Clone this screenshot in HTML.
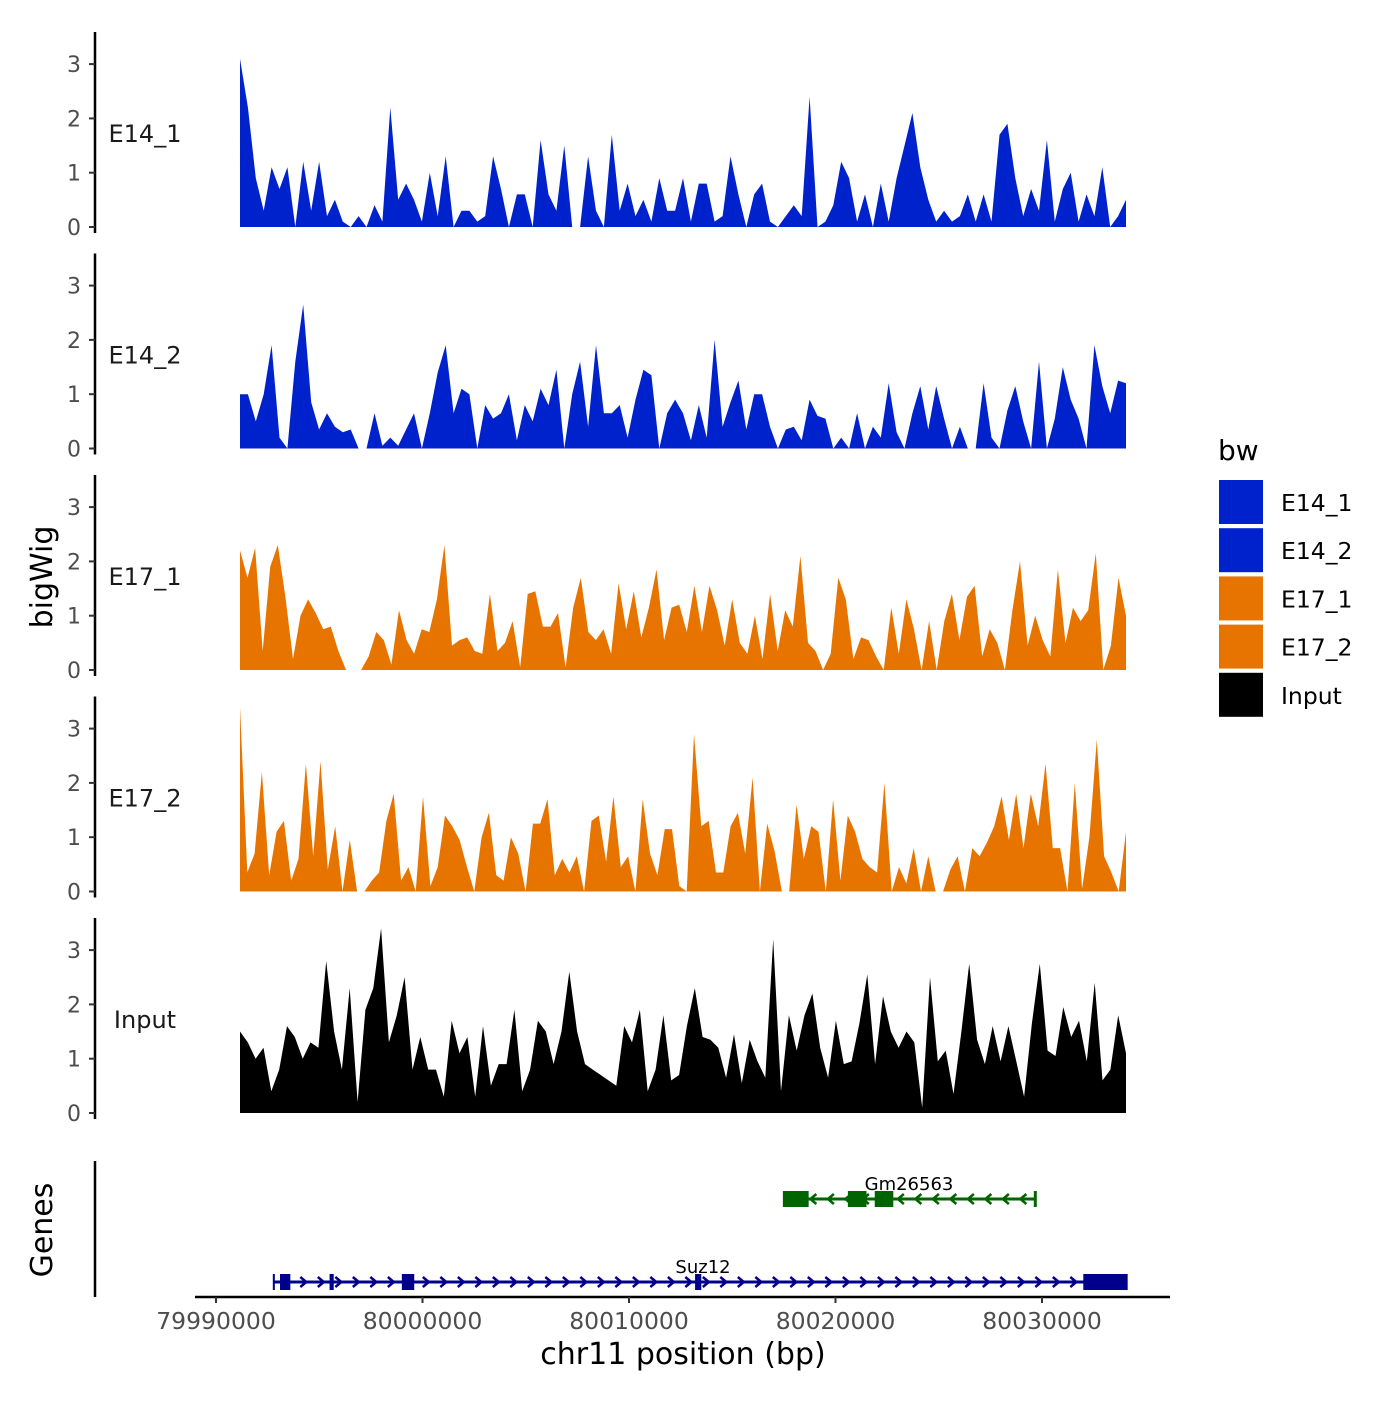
<!DOCTYPE html>
<html><head><meta charset="utf-8"><style>
body{margin:0;background:#fff;}
svg text{font-family:"DejaVu Sans","Liberation Sans",sans-serif;}
</style></head><body>
<svg id="chart" width="1400" height="1400" viewBox="0 0 1400 1400" xmlns="http://www.w3.org/2000/svg">
<g id="tracks"></g>
<g id="axes"></g>
<g id="genes"></g>
<g id="legend"></g>
</svg>
<script>
const trackNames = ["E14_1","E14_2","E17_1","E17_2","Input"];
const trackColors = ["#0022CC","#0022CC","#E87400","#E87400","#000000"];
const yTicks = [0,1,2,3];
const xTicks = [79990000,80000000,80010000,80020000,80030000];
const dataStart = 79991160, dataEnd = 80034070;
const e14_1 = [3.1,2.2,0.9,0.3,1.1,0.7,1.1,0,1.2,0.3,1.2,0.2,0.5,0.1,0,0.2,0,0.4,0.1,2.2,0.5,0.8,0.5,0.1,1.0,0.2,1.3,0,0.3,0.3,0.1,0.2,1.3,0.7,0,0.6,0.6,0,1.6,0.6,0.3,1.5,0,0,1.3,0.3,0,1.7,0.3,0.8,0.2,0.5,0.1,0.9,0.3,0.3,0.9,0.1,
0.8,0.8,0.1,0.2,1.3,0.6,0,0.6,0.8,0.1,0,0.2,0.4,0.2,2.4,0,0.1,0.4,1.2,0.9,0.1,0.6,0,0.8,0.1,0.9,1.5,2.1,1.1,0.5,0.1,0.3,0.1,0.2,0.6,0.1,0.6,0.1,1.7,1.9,0.9,0.2,0.7,0.3,1.6,0.1,0.7,1.0,0.1,0.6,0.2,1.1,0,0.2,0.5];
const e14_2 = [1.0,1.0,0.5,1.0,1.9,0.2,0,1.6,2.65,0.85,0.35,0.65,0.4,0.3,0.35,0,0,0.65,0.05,0.2,0.05,0.35,0.65,0,0.65,1.4,1.9,0.65,1.1,1.0,0,0.8,0.55,0.65,1.0,0.15,0.8,0.5,1.1,0.8,1.45,0,1.0,1.6,0.4,1.9,0.65,0.65,0.8,0.2,0.9,1.45,1.35,0,0.65,0.9,0.65,
0.15,0.8,0.2,2.0,0.4,0.85,1.25,0.35,1.0,1.0,0.4,0,0.35,0.4,0.15,0.9,0.6,0.55,0,0.2,0,0.65,0,0.4,0.2,1.2,0.3,0,0.65,1.15,0.35,1.15,0.55,0,0.4,0,0,1.2,0.2,0,0.7,1.15,0.5,0,1.6,0,0.55,1.5,0.9,0.55,0,1.9,1.15,0.65,1.25,1.2];
const e17_1 = [2.2,1.7,2.25,0.35,1.9,2.3,1.35,0.2,1.0,1.3,1.05,0.75,0.8,0.35,0,0,0,0.25,0.7,0.55,0.1,1.1,0.55,0.3,0.75,0.7,1.3,2.3,0.45,0.55,0.6,0.35,0.3,1.4,0.35,0.5,0.9,0.05,1.4,1.45,0.8,0.8,1.05,0.05,1.15,1.7,0.7,0.55,0.75,0.3,1.6,0.75,1.45,0.6,1.15,1.85,0.55,1.15,
1.2,0.7,1.55,0.7,1.55,1.1,0.45,1.3,0.5,0.3,1.0,0.2,1.4,0.35,1.1,0.8,2.1,0.5,0.35,0,0.3,1.7,1.3,0.2,0.6,0.55,0.25,0,1.15,0.3,1.3,0.75,0,0.9,0,0.9,1.4,0.55,1.35,1.55,0.25,0.75,0.5,0,1.1,2.0,0.45,1.0,0.55,0.25,1.85,0.5,1.15,0.9,1.1,2.15,0,0.45,1.7,1.0];
const e17_2 = [3.4,0.35,0.7,2.2,0.3,1.1,1.3,0.2,0.6,2.35,0.65,2.4,0.4,1.2,0,0.95,0,0,0.2,0.35,1.3,1.8,0.2,0.45,0,1.75,0.1,0.45,1.4,1.2,0.95,0.45,0,1.0,1.45,0.3,0.2,1.0,0.7,0,1.25,1.25,1.7,0.3,0.6,0.35,0.65,0,1.3,1.4,0.55,1.75,0.45,0.65,0,1.7,0.7,0.3,1.15,
1.15,0.1,0,2.9,1.2,1.3,0.35,0.35,1.2,1.45,0.7,2.1,0,1.25,0.75,0,0,1.6,0.6,1.2,1.1,0,1.7,0.2,1.4,1.1,0.6,0.45,0.35,2.0,0,0.45,0.15,0.8,0,0.65,0,0,0.4,0.65,0,0.8,0.65,0.9,1.2,1.75,0.95,1.8,0.8,1.8,1.2,2.35,0.8,0.8,0,2.0,0.05,1.0,2.8,0.65,0.35,0,1.1];
const input = [1.5,1.3,1.0,1.2,0.4,0.8,1.6,1.4,1.0,1.3,1.2,2.8,1.5,0.8,2.3,0.2,1.9,2.3,3.4,1.3,1.8,2.5,0.8,1.4,0.8,0.8,0.3,1.7,1.1,1.4,0.3,1.6,0.5,0.9,0.9,1.9,0.4,0.8,1.7,1.5,0.9,1.5,2.6,1.5,0.9,0.8,0.7,0.6,0.5,1.6,1.3,1.9,0.4,0.8,1.8,0.6,
0.7,1.6,2.3,1.4,1.35,1.2,0.65,1.45,0.55,1.35,0.95,0.65,3.2,0.4,1.8,1.15,1.8,2.2,1.2,0.65,1.7,0.9,0.95,1.65,2.55,0.9,2.15,1.5,1.2,1.5,1.3,0.1,2.5,0.95,1.15,0.35,1.5,2.75,1.35,0.9,1.6,0.95,1.6,0.95,0.3,1.65,2.75,1.15,1.05,1.95,1.4,1.7,0.95,2.4,0.6,0.8,1.8,1.1];
const trackValues = [e14_1,e14_2,e17_1,e17_2,input];
const suz12Exons = [[79993100,79993600],[79995500,79995700],[79999000,79999600],[80013200,80013500],[80032000,80034100]];
const gmExons = [[80017500,80018700],[80020600,80021500],[80021900,80022800]];

const NS="http://www.w3.org/2000/svg";
function mk(tag, attrs, parent){const e=document.createElementNS(NS,tag);for(const k in attrs)e.setAttribute(k,attrs[k]);parent.appendChild(e);return e;}
const xScale = v => 216 + (v-79990000)/10000*206.5;
const panelBase = i => 227 + i*221.5;
const yScale = (i,v) => panelBase(i) - v*54.3;

const tracks=document.getElementById('tracks'), axes=document.getElementById('axes');
trackValues.forEach((vals,i)=>{
  const n=vals.length;
  let pts=[[xScale(dataStart),panelBase(i)]];
  vals.forEach((v,j)=>{const g=dataStart+(dataEnd-dataStart)*j/(n-1);pts.push([xScale(g),yScale(i,v)]);});
  pts.push([xScale(dataEnd),panelBase(i)]);
  const p=mk('polygon',{points:pts.map(q=>q[0].toFixed(1)+','+q[1].toFixed(1)).join(' '),fill:trackColors[i]},tracks);
  
  
  const ax=mk('line',{x1:95,x2:95,y1:panelBase(i)-195,y2:panelBase(i)+6,stroke:'#000','stroke-width':2.5},axes);
  
  
  yTicks.forEach(t=>{
    mk('line',{x1:89,x2:95,y1:yScale(i,t),y2:yScale(i,t),stroke:'#333','stroke-width':2},axes);
    const tx=mk('text',{x:81,y:yScale(i,t)+8,'text-anchor':'end','font-size':22,fill:'#4d4d4d'},axes);
    tx.textContent=t;
    
    
  });
  const lb=mk('text',{x:145,y:panelBase(i)-85,'text-anchor':'middle','font-size':24,fill:'#1a1a1a'},axes);
  lb.textContent=trackNames[i];
  
  
});
const ga=mk('line',{x1:95,x2:95,y1:1161,y2:1297,stroke:'#000','stroke-width':2.5},axes);


const xa=mk('line',{x1:195,x2:1170,y1:1297,y2:1297,stroke:'#000','stroke-width':2.5},axes);


xTicks.forEach(t=>{
  mk('line',{x1:xScale(t),x2:xScale(t),y1:1297,y2:1303,stroke:'#333','stroke-width':2},axes);
  const tx=mk('text',{x:xScale(t),y:1329,'text-anchor':'middle','font-size':23.5,fill:'#4d4d4d'},axes);
  tx.textContent=t;
  
  
});
const xt=mk('text',{x:683,y:1364,'text-anchor':'middle','font-size':30,fill:'#000'},axes);
xt.textContent='chr11 position (bp)';


const yt=mk('text',{x:52,y:577,'text-anchor':'middle','font-size':30,fill:'#000',transform:'rotate(-90 52 577)'},axes);
yt.textContent='bigWig';


const gt=mk('text',{x:52,y:1230,'text-anchor':'middle','font-size':30,fill:'#000',transform:'rotate(-90 52 1230)'},axes);
gt.textContent='Genes';



const genes=document.getElementById('genes');
function drawGene(name,start,end,y,color,exons,dir,labelX){
  const g=mk('g',{},genes);
  
  
  mk('line',{x1:xScale(start),x2:xScale(end),y1:y,y2:y,stroke:color,'stroke-width':3},g);
  for(let x=xScale(start)+12;x<xScale(end)-8;x+=17.5){
    const d=dir>0?`M${x-3},${y-5} L${x+3},${y} L${x-3},${y+5}`:`M${x+3},${y-5} L${x-3},${y} L${x+3},${y+5}`;
    mk('path',{d:d,stroke:color,fill:'none','stroke-width':2.5},g);
  }
  exons.forEach(e=>mk('rect',{x:xScale(e[0]),y:y-8,width:Math.max(2,xScale(e[1])-xScale(e[0])),height:16,fill:color},g));
  mk('rect',{x:xScale(start)-1,y:y-8,width:2,height:16,fill:color},g);
  mk('rect',{x:xScale(end)-2,y:y-8,width:3,height:16,fill:color},g);
  const t=mk('text',{x:labelX,y:y-9,'text-anchor':'middle','font-size':18,fill:'#000'},g);
  t.textContent=name;
}
drawGene('Suz12',79992800,80034100,1282,'#00008B',suz12Exons,1,703);
drawGene('Gm26563',80017500,80029700,1199,'#006400',gmExons,-1,909);

const lg=document.getElementById('legend');
const lt=mk('text',{x:1218,y:460,'font-size':28,fill:'#000'},lg);
lt.textContent='bw';


trackNames.forEach((n,i)=>{
  const g=mk('g',{},lg);
  
  
  mk('rect',{x:1219,y:480+i*48.2,width:44,height:44,fill:trackColors[i]},g);
  const t=mk('text',{x:1281,y:511+i*48.2,'font-size':23.5,fill:'#000'},g);
  t.textContent=n;
});
</script>
</body></html>
